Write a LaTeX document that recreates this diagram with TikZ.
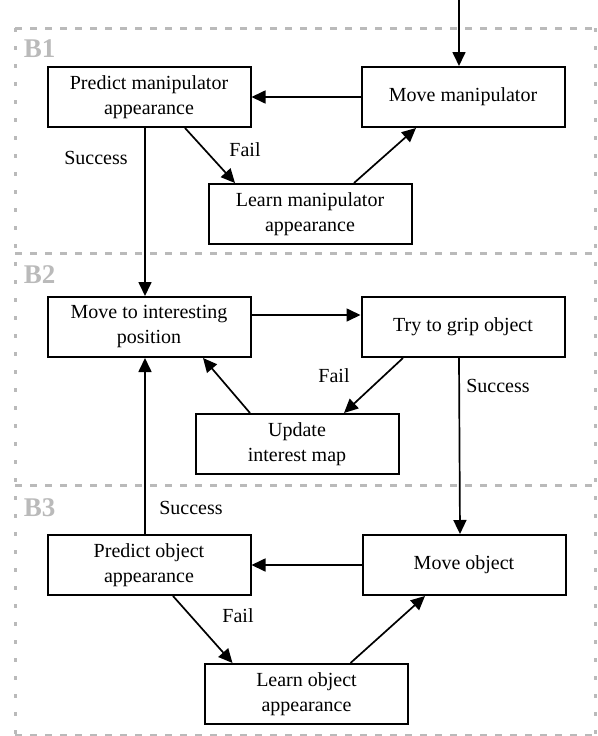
\documentclass[tikz,border=0pt]{standalone}
\usepackage{fontspec}
\setmainfont{Liberation Serif}
\usetikzlibrary{positioning,arrows.meta,calc}
\tikzset{every picture/.style={line width=1.7pt}}

\begin{document}
\begin{tikzpicture}[x=1pt, y=-1pt, >={Triangle[length=14pt,width=13pt]},
    box/.style={draw, rectangle, line width=2pt, minimum width=203pt, minimum height=60pt, align=center, font=\fontsize{20}{25}\selectfont},
    lbl/.style={font=\fontsize{20}{25}\selectfont, inner sep=0pt},
    blk/.style={font=\fontsize{27}{30}\selectfont\bfseries, text=black!27, inner sep=0pt, anchor=base west},
    hdash/.style={draw=black!27, line width=3pt, dash pattern=on 7pt off 8pt},
    vdash/.style={draw=black!27, line width=3pt, dash pattern=on 4pt off 14pt}]
\useasboundingbox (0,0) rectangle (597,736);

    % Block frames
    \draw[hdash] (15,28) -- (595,28);
    \draw[hdash] (15,253) -- (595,253);
    \draw[hdash] (15,485) -- (595,485);
    \draw[hdash] (15,735) -- (595,735);
    \draw[vdash] (15,28) -- (15,735);
    \draw[vdash] (595,28) -- (595,735);
\node[blk] (B1) at (23,57) {B1};
\node[blk] (B2) at (23,283) {B2};
\node[blk] (B3) at (23,516) {B3};

    % B1: manipulator
\node[box] (PM) at (149,97) {Predict manipulator\\appearance};
\node[box, right=109pt of PM] (MM) {Move manipulator};
\node[box, below=55pt of $(PM.south)!0.5!(MM.south)$, xshift=4pt] (LM) {Learn manipulator\\appearance};

    % B2: grasping
\node[box, below=168pt of PM] (MI) {Move to interesting\\position};
\node[box, right=109pt of MI] (TG) {Try to grip object};
\node[box, below=55pt of $(MI.south)!0.5!(TG.south)$, xshift=-9pt] (UI) {Update\\interest map};

    % B3: object
\node[box, below=176pt of MI] (PO) {Predict object\\appearance};
\node[box, right=110pt of PO] (MO) {Move object};
\node[box, below=67pt of $(PO.south)!0.5!(MO.south)$] (LO) {Learn object\\appearance};

    % Connections
    \coordinate (start) at ([xshift=-4pt]MM.north |- 0,0);
    \draw[->] (start) -- ([xshift=-4pt]MM.north);
    \draw[->] (MM.west) -- (PM.east);
    \draw[->] ([xshift=36pt]PM.south) -- ([xshift=-75pt]LM.north);
    \draw[->] ([xshift=44pt]LM.north) -- ([xshift=-47pt]MM.south);
    \draw[->] ([xshift=-4pt]PM.south) -- ([xshift=-4pt]MI.north);
    \draw[->] ([yshift=12pt]MI.east) -- ([yshift=12pt]TG.west);
    \draw[->] ([xshift=-60pt]TG.south) -- ([xshift=47pt]UI.north);
    \draw[->] ([xshift=-47pt]UI.north) -- ([xshift=54pt]MI.south);
    \draw[->] ([xshift=-4pt]TG.south) -- ([xshift=-4pt]MO.north);
    \draw[->] (MO.west) -- (PO.east);
    \draw[->] ([xshift=24pt]PO.south) -- ([xshift=-74pt]LO.north);
    \draw[->] ([xshift=44pt]LO.north) -- ([xshift=-39pt]MO.south);
    \draw[->] ([xshift=-4pt]PO.north) -- ([xshift=-4pt]MI.south);

    % Labels
\node[lbl] (s1) at (96,158) {Success};
\node[lbl] (f1) at (245,150) {Fail};
\node[lbl] (f2) at (334,376) {Fail};
\node[lbl] (s2) at (498,386) {Success};
\node[lbl] (s3) at (191,508) {Success};
\node[lbl] (f3) at (238,616) {Fail};
\end{tikzpicture}
\end{document}
